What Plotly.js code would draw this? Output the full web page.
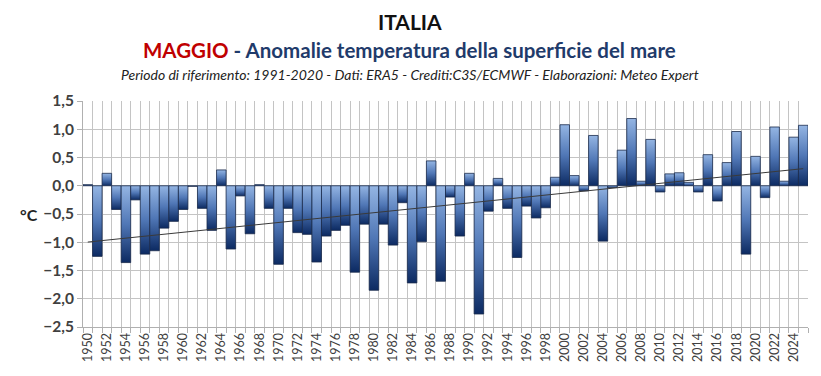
<!DOCTYPE html>
<html>
<head>
<meta charset="utf-8">
<script src="https://cdn.plot.ly/plotly-3.0.1.min.js"></script>
<style>
html,body{margin:0;padding:0;background:#fff;}
#chart{width:821px;height:376px;}
</style>
</head>
<body>
<div id="chart"></div>
<script>
const years = [];
for (let y = 1950; y <= 2025; y++) years.push(y);

const anomalies = [
  0.02, -1.25, 0.22, -0.42, -1.36, -0.25, -1.21, -1.15, -0.75, -0.63,
  -0.42, -0.01, -0.40, -0.79, 0.28, -1.12, -0.18, -0.85, 0.02, -0.40,
  -1.39, -0.40, -0.83, -0.86, -1.35, -0.89, -0.79, -0.70, -1.53, -0.68,
  -1.85, -0.68, -1.05, -0.30, -1.72, -0.99, 0.44, -1.69, -0.20, -0.89,
  0.22, -2.27, -0.45, 0.13, -0.40, -1.27, -0.36, -0.57, -0.39, 0.15,
  1.08, 0.18, -0.09, 0.89, -0.98, -0.03, 0.63, 1.19, 0.08, 0.82,
  -0.11, 0.21, 0.23, 0.06, -0.11, 0.55, -0.27, 0.41, 0.96, -1.21,
  0.52, -0.21, 1.04, 0.08, 0.86, 1.07
];

const tickYears = years.filter(y => y % 2 === 0);
const yTicks = [-2.5, -2.0, -1.5, -1.0, -0.5, 0.0, 0.5, 1.0, 1.5];

// linear trend (least squares)
const n = years.length;
const mx = years.reduce((a, b) => a + b, 0) / n;
const my = anomalies.reduce((a, b) => a + b, 0) / n;
let sxy = 0, sxx = 0;
for (let i = 0; i < n; i++) { sxy += (years[i] - mx) * (anomalies[i] - my); sxx += (years[i] - mx) ** 2; }
const slope = sxy / sxx;
const icpt = my - slope * mx;
const trendX = [years[0], years[n - 1]];
const trendY = trendX.map(x => icpt + slope * x);

const traces = [
  {
    type: 'bar', x: years, y: anomalies, width: 1,
    marker: { color: '#3d64a6', line: { color: '#1b2b4b', width: 0.8 } },
    hoverinfo: 'x+y'
  },
  {
    type: 'scatter', mode: 'lines', x: trendX, y: trendY,
    line: { color: '#3a3a3a', width: 1 }, hoverinfo: 'skip'
  }
];

const titleFont = 'Lato, "Open Sans", sans-serif';

const layout = {
  width: 821, height: 376,
  margin: { l: 83, r: 13, t: 101, b: 49 },
  paper_bgcolor: '#ffffff', plot_bgcolor: '#ffffff',
  showlegend: false,
  separators: ',.',
  bargap: 0,
  xaxis: {
    range: [1949.5, 2025.5],
    tickmode: 'array', tickvals: tickYears, ticktext: tickYears.map(String),
    tickangle: -90, ticks: '', showgrid: false, zeroline: false,
    tickfont: { family: titleFont, size: 12.5, color: '#404040' },
    showline: true, linecolor: '#b0b0b0', linewidth: 1,
    minor: { tick0: 1949.5, dtick: 1, showgrid: true, gridcolor: '#c4c4c4', gridwidth: 1, ticks: 'outside', ticklen: 5, tickcolor: '#b0b0b0' },
    fixedrange: true
  },
  yaxis: {
    range: [-2.5, 1.5], tickmode: 'array', tickvals: yTicks,
    tickformat: '.1f',
    showgrid: true, gridcolor: '#c4c4c4', gridwidth: 1, zeroline: false,
    showline: true, linecolor: '#b0b0b0', linewidth: 1,
    ticks: 'outside', ticklen: 5, tickcolor: '#b0b0b0',
    tickfont: { family: titleFont, size: 15.5, color: '#404040', weight: 'bold' },
    fixedrange: true
  },
  annotations: [
    { xref: 'paper', yref: 'paper', x: 0.451, y: 1, yshift: 80, xanchor: 'center', yanchor: 'middle',
      showarrow: false, text: '<b>ITALIA</b>', font: { family: titleFont, size: 21, color: '#111111' } },
    { xref: 'paper', yref: 'paper', x: 0.451, y: 1, yshift: 51, xanchor: 'center', yanchor: 'middle',
      showarrow: false,
      text: '<b><span style="color:#c00000">MAGGIO</span> - Anomalie temperatura della superficie del mare</b>',
      font: { family: titleFont, size: 20.5, color: '#1f3b6b' } },
    { xref: 'paper', yref: 'paper', x: 0.451, y: 1, yshift: 27, xanchor: 'center', yanchor: 'middle',
      showarrow: false,
      text: '<i>Periodo di riferimento: 1991-2020 - Dati: ERA5 - Crediti:C3S/ECMWF - Elaborazioni: Meteo Expert</i>',
      font: { family: titleFont, size: 14, color: '#222222' } },
    { xref: 'paper', yref: 'y', x: 0, xshift: -54, y: -0.5, xanchor: 'center', yanchor: 'middle',
      showarrow: false, text: '<b>°C</b>', font: { family: titleFont, size: 16, color: '#222222' } }
  ]
};

const gd = document.getElementById('chart');
Plotly.newPlot(gd, traces, layout, { displayModeBar: false, staticPlot: true }).then(() => {
  const svg = gd.querySelector('svg.main-svg');
  const ns = 'http://www.w3.org/2000/svg';
  let defs = svg.querySelector('defs');
  if (!defs) { defs = document.createElementNS(ns, 'defs'); svg.insertBefore(defs, svg.firstChild); }
  const lg = document.createElementNS(ns, 'linearGradient');
  lg.setAttribute('id', 'barGrad');
  lg.setAttribute('x1', '0'); lg.setAttribute('y1', '0');
  lg.setAttribute('x2', '0'); lg.setAttribute('y2', '1');
  [['0', '#94b5e3'], ['0.5', '#5077b6'], ['1', '#0c2a62']].forEach(([o, c]) => {
    const s = document.createElementNS(ns, 'stop');
    s.setAttribute('offset', o); s.setAttribute('stop-color', c);
    lg.appendChild(s);
  });
  defs.appendChild(lg);
  gd.querySelectorAll('.bars .point path').forEach(p => { p.style.fill = 'url(#barGrad)'; });
});
</script>
</body>
</html>
